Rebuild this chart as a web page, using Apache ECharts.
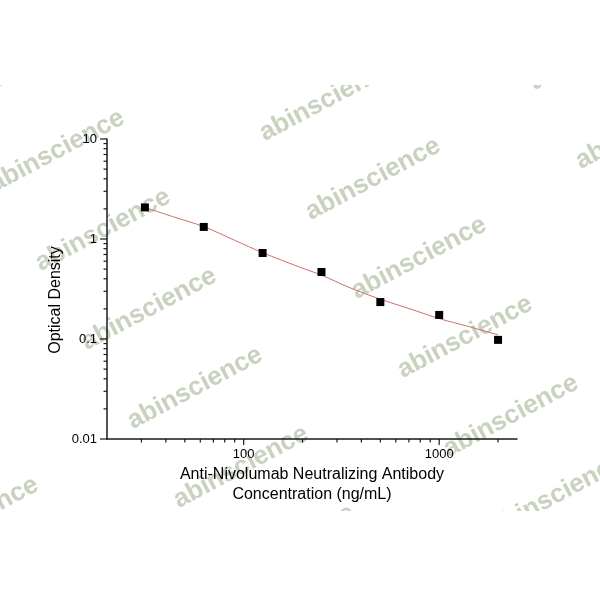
<!DOCTYPE html>
<html>
<head>
<meta charset="utf-8">
<script src="https://cdn.jsdelivr.net/npm/echarts@6/dist/echarts.min.js"></script>
<style>
html,body{margin:0;padding:0;background:#fff;}
#chart{width:600px;height:600px;}
</style>
</head>
<body>
<div id="chart"></div>
<script>
// ---- data ----
const concentrations = [31.25, 62.5, 125, 250, 500, 1000, 2000];
const opticalDensity = [2.07, 1.32, 0.724, 0.468, 0.234, 0.174, 0.098];
const fitX = [31.25, 44, 62.5, 90, 125, 195, 250, 350, 500, 710, 1000, 1400, 2000];
const fitY = [2.07, 1.66, 1.33, 0.97, 0.73, 0.52, 0.435, 0.325, 0.25, 0.2, 0.16, 0.134, 0.11];
const xMajorTicks = [100, 1000];
const xMinorTicks = [30, 40, 50, 60, 70, 80, 90, 200, 300, 400, 500, 600, 700, 800, 900, 2000];
const yMajorTicks = [0.01, 0.1, 1, 10];
const yMinorTicks = [0.02,0.03,0.04,0.05,0.06,0.07,0.08,0.09,0.2,0.3,0.4,0.5,0.6,0.7,0.8,0.9,2,3,4,5,6,7,8,9];
const xAxisTitle = 'Anti-Nivolumab Neutralizing Antibody\nConcentration (ng/mL)';
const yAxisTitle = 'Optical Density';
const watermarkText = 'abinscience';

const X_MIN = 20, X_MAX = 2500, Y_MIN = 0.01, Y_MAX = 10;
const FONT = '"Liberation Sans", Arial, sans-serif';

function fmtPow10(v) {
  const l = Math.log10(v);
  const r = Math.round(l);
  if (Math.abs(l - r) > 1e-6) return '';
  return String(Number(Math.pow(10, r).toPrecision(6)));
}

// watermark lattice (decoration layout)
const wm = [];
const base = [57, 151], u = [270, -51], v = [46, 79];
for (let i = -1; i <= 2; i++) {
  for (let j = -1; j <= 6; j++) {
    const cx = base[0] + i * u[0] + j * v[0];
    const cy = base[1] + i * u[1] + j * v[1];
    if (cx > -90 && cx < 690 && cy > 30 && cy < 560) {
      wm.push({
        type: 'text', x: cx, y: cy, rotation: 28 * Math.PI / 180, z: -20, silent: true,
        style: { text: watermarkText, fill: '#c9d1bf', font: 'bold 26px ' + FONT,
                 textAlign: 'center', textVerticalAlign: 'middle' }
      });
    }
  }
}
wm.push({ type: 'rect', shape: { x: 0, y: 0, width: 600, height: 85 }, style: { fill: '#fff' }, z: -10, silent: true });
wm.push({ type: 'rect', shape: { x: 0, y: 511, width: 600, height: 89 }, style: { fill: '#fff' }, z: -10, silent: true });
wm.push({
  type: 'text', x: 56, y: 300, rotation: Math.PI / 2, z: 5, silent: true,
  style: { text: yAxisTitle, fill: '#000', font: '16px ' + FONT, textAlign: 'center', textVerticalAlign: 'middle' }
});

const chart = echarts.init(document.getElementById('chart'), null, { renderer: 'canvas' });

const xTickData = xMajorTicks.map(t => [t, Y_MIN, 1]).concat(xMinorTicks.map(t => [t, Y_MIN, 0]));
const yTickData = yMajorTicks.map(t => [X_MIN, t, 1]).concat(yMinorTicks.map(t => [X_MIN, t, 0]));

chart.setOption({
  animation: false,
  backgroundColor: '#fff',
  graphic: wm,
  grid: { left: 107, top: 139, width: 410, height: 300, containLabel: false },
  xAxis: {
    type: 'log', logBase: 10, min: X_MIN, max: X_MAX,
    name: xAxisTitle, nameLocation: 'middle', nameGap: 26,
    nameTextStyle: { fontFamily: FONT, fontSize: 16, color: '#000', lineHeight: 20 },
    axisLine: { lineStyle: { color: '#1a1a1a', width: 1.5 } },
    axisTick: { show: false },
    splitLine: { show: false },
    axisLabel: { formatter: fmtPow10, fontFamily: FONT, fontSize: 13, color: '#000', margin: 9,
                 showMinLabel: true, showMaxLabel: true }
  },
  yAxis: {
    type: 'log', logBase: 10, min: Y_MIN, max: Y_MAX,
    axisLine: { show: true, lineStyle: { color: '#1a1a1a', width: 1.5 } },
    axisTick: { show: false },
    splitLine: { show: false },
    axisLabel: { formatter: fmtPow10, fontFamily: FONT, fontSize: 13, color: '#000', margin: 10 }
  },
  series: [
    {
      type: 'line', data: fitX.map((x, i) => [x, fitY[i]]), smooth: 0.3, showSymbol: false,
      lineStyle: { color: '#cc6f6f', width: 1 }, z: 3, silent: true
    },
    {
      type: 'scatter', data: concentrations.map((x, i) => [x, opticalDensity[i]]),
      symbol: 'rect', symbolSize: 8, itemStyle: { color: '#000', opacity: 1 }, z: 4, silent: true
    },
    {
      type: 'custom', data: xTickData, clip: false, silent: true, z: 5,
      renderItem: function (params, api) {
        const p = api.coord([api.value(0), api.value(1)]);
        const len = api.value(2) ? 6 : 3.5;
        return { type: 'line', shape: { x1: p[0], y1: p[1], x2: p[0], y2: p[1] + len },
                 style: { stroke: '#1a1a1a', lineWidth: 1.2 } };
      }
    },
    {
      type: 'custom', data: yTickData, clip: false, silent: true, z: 5,
      renderItem: function (params, api) {
        const p = api.coord([api.value(0), api.value(1)]);
        const len = api.value(2) ? 7 : 3.5;
        return { type: 'line', shape: { x1: p[0], y1: p[1], x2: p[0] - len, y2: p[1] },
                 style: { stroke: '#1a1a1a', lineWidth: 1.2 } };
      }
    }
  ]
});
</script>
</body>
</html>
